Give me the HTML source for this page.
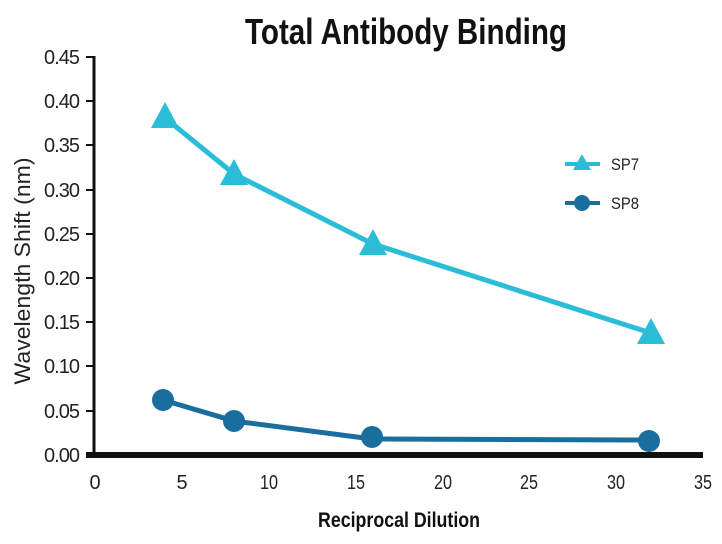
<!DOCTYPE html>
<html><head><style>
body{margin:0;background:#fff;}
svg text{font-family:"Liberation Sans",sans-serif;}
</style></head><body>
<svg width="722" height="539" viewBox="0 0 722 539" xmlns="http://www.w3.org/2000/svg">
<text x="406" y="44" text-anchor="middle" font-size="36" font-weight="bold" fill="#111" textLength="322" lengthAdjust="spacingAndGlyphs">Total Antibody Binding</text>
<line x1="94" y1="56" x2="94" y2="455" stroke="#111" stroke-width="3"/>
<g stroke="#111" stroke-width="2">
<line x1="86" y1="57" x2="94" y2="57"/><line x1="86" y1="101" x2="94" y2="101"/>
<line x1="86" y1="145" x2="94" y2="145"/><line x1="86" y1="190" x2="94" y2="190"/>
<line x1="86" y1="234" x2="94" y2="234"/><line x1="86" y1="278" x2="94" y2="278"/>
<line x1="86" y1="322" x2="94" y2="322"/><line x1="86" y1="366" x2="94" y2="366"/>
<line x1="86" y1="411" x2="94" y2="411"/>
</g>
<g font-size="20" fill="#222" text-anchor="end" lengthAdjust="spacingAndGlyphs">
<text x="80" y="64" textLength="36">0.45</text><text x="80" y="108" textLength="36">0.40</text><text x="80" y="152" textLength="36">0.35</text>
<text x="80" y="197" textLength="36">0.30</text><text x="80" y="241" textLength="36">0.25</text><text x="80" y="285" textLength="36">0.20</text>
<text x="80" y="329" textLength="36">0.15</text><text x="80" y="373" textLength="36">0.10</text><text x="80" y="418" textLength="36">0.05</text>
<text x="80" y="462" textLength="36">0.00</text>
</g>
<line x1="86" y1="455" x2="703" y2="455" stroke="#111" stroke-width="6"/>
<g font-size="20" fill="#222" text-anchor="middle">
<text x="95" y="489">0</text><text x="182" y="489">5</text>
<text x="269" y="489" textLength="18" lengthAdjust="spacingAndGlyphs">10</text>
<text x="356" y="489" textLength="18" lengthAdjust="spacingAndGlyphs">15</text>
<text x="443" y="489" textLength="18" lengthAdjust="spacingAndGlyphs">20</text>
<text x="529" y="489" textLength="18" lengthAdjust="spacingAndGlyphs">25</text>
<text x="616" y="489" textLength="18" lengthAdjust="spacingAndGlyphs">30</text>
<text x="703" y="489" textLength="18" lengthAdjust="spacingAndGlyphs">35</text>
</g>
<text x="399" y="527" text-anchor="middle" font-size="21" font-weight="bold" fill="#111" textLength="162" lengthAdjust="spacingAndGlyphs">Reciprocal Dilution</text>
<text transform="translate(30,271) rotate(-90)" text-anchor="middle" font-size="22" fill="#222" textLength="227" lengthAdjust="spacingAndGlyphs">Wavelength Shift (nm)</text>
<polyline points="164,117 234,174 373,244 651,333" fill="none" stroke="#2bbcd8" stroke-width="5"/>
<g fill="#2bbcd8">
<polygon points="165,102 179,128 151,128"/><polygon points="234,159 248,185 220,185"/>
<polygon points="373,229 387,255 359,255"/><polygon points="651,318 665,344 637,344"/>
</g>
<polyline points="163,400 234,421 372,439 650,440" fill="none" stroke="#1a6e9e" stroke-width="5"/>
<g fill="#1a6e9e">
<circle cx="163" cy="400" r="11"/><circle cx="234" cy="421" r="11"/>
<circle cx="372" cy="437" r="11"/><circle cx="649" cy="441" r="11"/>
</g>
<line x1="565" y1="164" x2="600" y2="164" stroke="#2bbcd8" stroke-width="4"/>
<polygon points="582,154 591,170 573,170" fill="#2bbcd8"/>
<text x="611" y="170" font-size="17" fill="#222" textLength="28" lengthAdjust="spacingAndGlyphs">SP7</text>
<line x1="565" y1="203" x2="600" y2="203" stroke="#1a6e9e" stroke-width="4"/>
<circle cx="582" cy="203" r="8" fill="#1a6e9e"/>
<text x="611" y="209" font-size="17" fill="#222" textLength="28" lengthAdjust="spacingAndGlyphs">SP8</text>
</svg>
</body></html>
